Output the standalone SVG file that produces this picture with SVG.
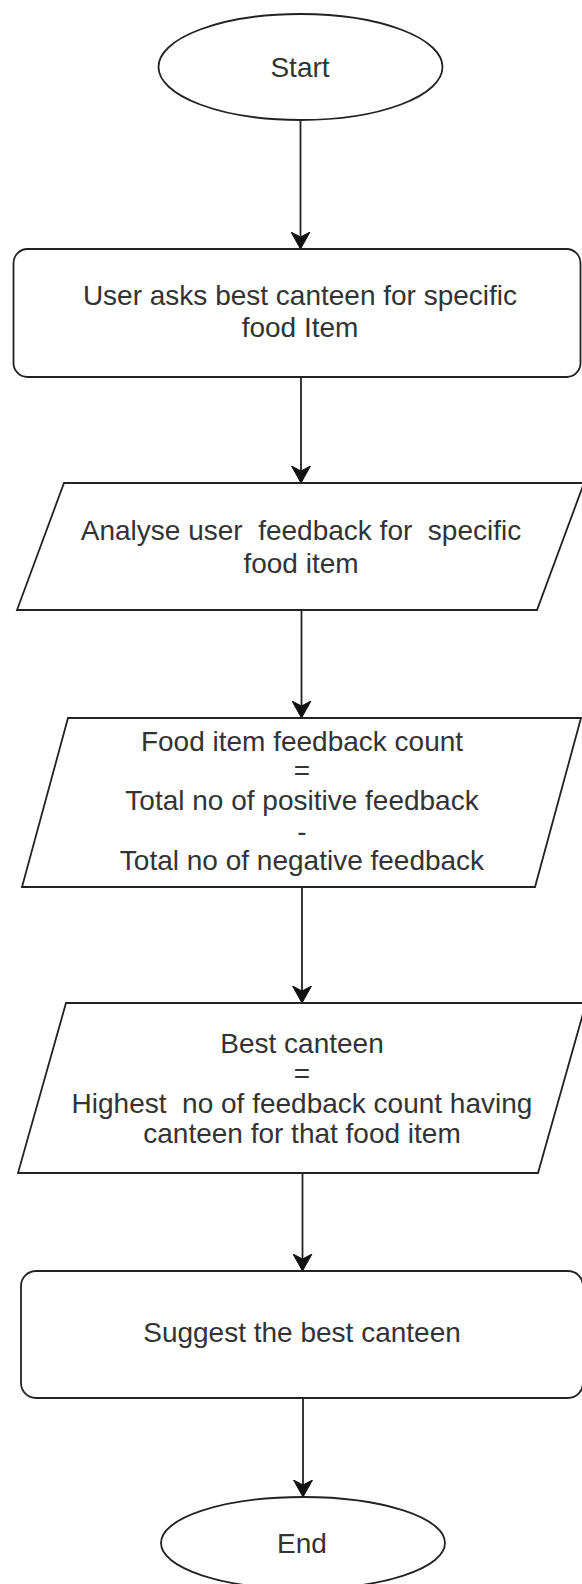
<svg xmlns="http://www.w3.org/2000/svg" width="582" height="1584" viewBox="0 0 582 1584">
  <style>
    .shape { fill: #ffffff; stroke: #222222; stroke-width: 1.8; }
    .label { font-family: "Liberation Sans", Arial, sans-serif; font-size: 28px; fill: #333333; text-anchor: middle; }
    .edge { fill: none; stroke: #222222; stroke-width: 1.8; }
  </style>
  <defs>
    <marker id="arrow" viewBox="0 -10 18 20" refX="17" refY="0" markerWidth="18" markerHeight="20" markerUnits="userSpaceOnUse" orient="auto">
      <path d="M0,-9.5 L17,0 L0,9.5 L5,0 Z" fill="#111111" stroke="#111111" stroke-width="1"/>
    </marker>
  </defs>
  <rect x="0" y="0" width="582" height="1584" fill="#ffffff"/>

  <g id="connectors">
    <line class="edge" x1="300.5" y1="120" x2="300.5" y2="249" marker-end="url(#arrow)"/>
    <line class="edge" x1="301" y1="377" x2="301" y2="483" marker-end="url(#arrow)"/>
    <line class="edge" x1="301.5" y1="610" x2="301.5" y2="718" marker-end="url(#arrow)"/>
    <line class="edge" x1="302" y1="887" x2="302" y2="1003" marker-end="url(#arrow)"/>
    <line class="edge" x1="302.5" y1="1173" x2="302.5" y2="1271" marker-end="url(#arrow)"/>
    <line class="edge" x1="303" y1="1398" x2="303" y2="1497" marker-end="url(#arrow)"/>
  </g>

  <g id="start">
    <ellipse class="shape" cx="300.5" cy="67" rx="142" ry="53"/>
    <text class="label" x="300" y="77">Start</text>
  </g>

  <g id="ask">
    <rect class="shape" x="13.5" y="249" width="567" height="128" rx="14" ry="14"/>
    <text class="label" x="300" y="305">User asks best canteen for specific</text>
    <text class="label" x="300" y="337">food Item</text>
  </g>

  <g id="analyse">
    <polygon class="shape" points="64,483 584,483 537,610 17,610"/>
    <text class="label" x="301" y="540" xml:space="preserve">Analyse user  feedback for  specific</text>
    <text class="label" x="301" y="573">food item</text>
  </g>

  <g id="count">
    <polygon class="shape" points="68,718 581,718 535,887 22,887"/>
    <text class="label" x="302" y="751">Food item feedback count</text>
    <text class="label" x="302" y="780">=</text>
    <text class="label" x="302" y="810">Total no of positive feedback</text>
    <text class="label" x="302" y="841">-</text>
    <text class="label" x="302" y="870">Total no of negative feedback</text>
  </g>

  <g id="best">
    <polygon class="shape" points="66,1003 586,1003 538,1173 18,1173"/>
    <text class="label" x="302" y="1053">Best canteen</text>
    <text class="label" x="302" y="1083">=</text>
    <text class="label" x="302" y="1113" xml:space="preserve">Highest  no of feedback count having</text>
    <text class="label" x="302" y="1143">canteen for that food item</text>
  </g>

  <g id="suggest">
    <rect class="shape" x="21" y="1271" width="562" height="127" rx="15" ry="15"/>
    <text class="label" x="302" y="1342">Suggest the best canteen</text>
  </g>

  <g id="end">
    <ellipse class="shape" cx="303" cy="1543" rx="142" ry="46"/>
    <text class="label" x="302" y="1553">End</text>
  </g>
</svg>
